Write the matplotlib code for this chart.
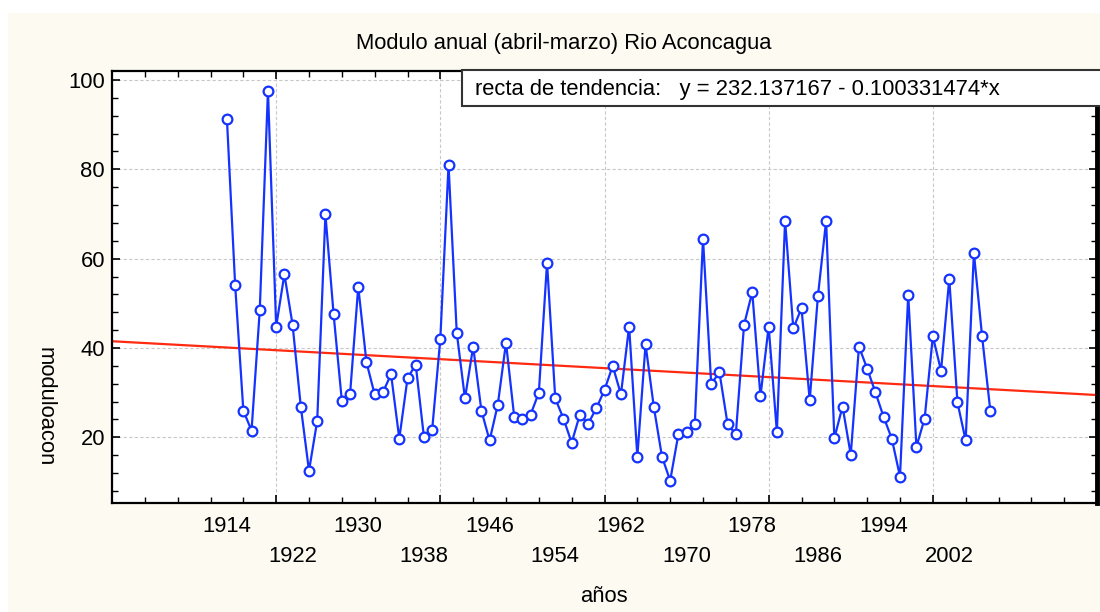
import matplotlib.pyplot as plt
import matplotlib.transforms as mtransforms
from matplotlib.patches import Rectangle
from matplotlib.ticker import MultipleLocator, NullFormatter

plt.rcParams['font.family'] = ['Liberation Sans', 'DejaVu Sans']

years = list(range(1914, 2008))
modulo = [91.3, 54.2, 26.0, 21.5, 48.4, 97.6, 44.8, 56.5, 45.2, 26.9,
          12.5, 23.7, 69.9, 47.5, 28.2, 29.6, 53.7, 36.8, 29.6, 30.1,
          34.1, 19.7, 33.2, 36.3, 20.1, 21.6, 42.1, 81.0, 43.4, 28.7,
          40.3, 26.0, 19.3, 27.3, 41.2, 24.6, 24.2, 25.1, 30.0, 59.1,
          28.7, 24.2, 18.8, 25.1, 23.0, 26.5, 30.6, 36.0, 29.6, 44.8,
          15.7, 40.8, 26.9, 15.7, 10.3, 20.7, 21.1, 22.9, 64.5, 31.9,
          34.6, 22.9, 20.7, 45.2, 52.5, 29.2, 44.8, 21.2, 68.5, 44.4,
          48.9, 28.3, 51.6, 68.5, 19.8, 26.9, 16.1, 40.3, 35.4, 30.1,
          24.6, 19.7, 11.2, 51.9, 17.9, 24.2, 42.6, 34.9, 55.5, 27.8,
          19.3, 61.3, 42.6, 26.0]

# regression line as given in the chart
intercept = 232.137167
slope = -0.100331474
x_range = [1900, 2020]

label_row1 = [1914, 1930, 1946, 1962, 1978, 1994]
label_row2 = [1922, 1938, 1954, 1970, 1986, 2002]

fs = 15.8

fig = plt.figure(figsize=(11, 6.12), dpi=100)
fig.patch.set_facecolor('white')
# cream panel behind everything
fig.patches.append(Rectangle((8/1100, 0), 1, 1 - 13/612, transform=fig.transFigure,
                             facecolor='#fdfaf1', edgecolor='none', zorder=-10))

ax = fig.add_axes([112/1100, 109/612, 985/1100, 432/612])
ax.set_facecolor('white')

trend = [intercept + slope * x for x in x_range]
ax.plot(x_range, trend, color='#ff2a10', lw=1.6, zorder=2)
ax.plot(years, modulo, color='#1533ff', lw=1.6, marker='o', markersize=7,
        markerfacecolor='white', markeredgecolor='#1533ff', markeredgewidth=1.6, zorder=3)

ax.set_xlim(x_range)
ax.set_ylim(5.3, 102)

ax.xaxis.set_major_locator(MultipleLocator(20))
ax.xaxis.set_minor_locator(MultipleLocator(4))
ax.xaxis.set_major_formatter(NullFormatter())
ax.yaxis.set_major_locator(MultipleLocator(20))
ax.yaxis.set_minor_locator(MultipleLocator(4))
ax.tick_params(axis='both', which='both', direction='in', top=True, right=True,
               color='black')
ax.tick_params(which='major', length=6, width=1.2)
ax.tick_params(which='minor', length=4, width=1.0)
ax.tick_params(axis='y', labelsize=fs, pad=5)
ax.grid(True, which='major', color='#c8c8c8', linestyle=(0, (3, 2)), lw=0.8)

for side in ['left', 'bottom', 'top']:
    ax.spines[side].set_linewidth(1.6)
ax.spines['right'].set_linewidth(3.5)

# staggered year labels
tr = mtransforms.blended_transform_factory(ax.transData, fig.transFigure)
for yr in label_row1:
    ax.text(yr, 1 - 527/612, str(yr), transform=tr, ha='center', va='center', fontsize=fs)
for yr in label_row2:
    ax.text(yr, 1 - 557/612, str(yr), transform=tr, ha='center', va='center', fontsize=fs)

fig.text(564/1100, 1 - 43/612, 'Modulo anual (abril-marzo) Rio Aconcagua',
         ha='center', va='center', fontsize=fs)
fig.text(604/1100, 1 - 597/612, 'años', ha='center', va='center', fontsize=fs)
fig.text(45/1100, 1 - 407/612, 'moduloacon', ha='center', va='center',
         rotation=-90, fontsize=fs)

# equation box
fig.patches.append(Rectangle((462/1100, 1 - 106/612), 0.6, 36/612, transform=fig.transFigure,
                             facecolor='white', edgecolor='#333333', lw=1.5, zorder=5))
fig.text(475/1100, 1 - 89/612, 'recta de tendencia:   y = 232.137167 - 0.100331474*x',
         ha='left', va='center', fontsize=fs, zorder=6)

fig.savefig('out.png', dpi=100)
